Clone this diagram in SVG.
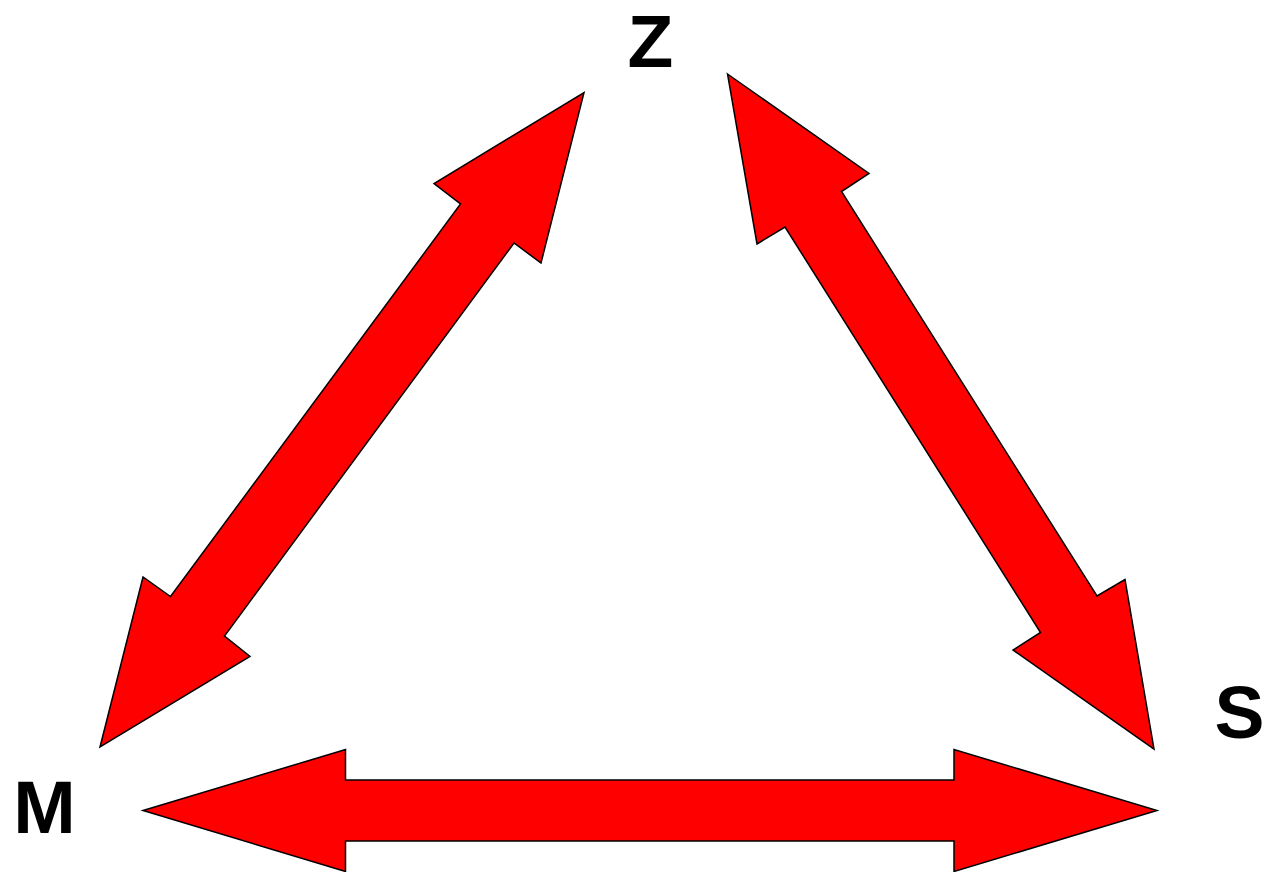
<svg xmlns="http://www.w3.org/2000/svg" width="1262" height="872" viewBox="0 0 1262 872">
<style>
.arrow{fill:#ff0000;stroke:#000;stroke-width:1.5;stroke-linejoin:miter}
.lbl{font-family:"Liberation Sans",Arial,sans-serif;font-weight:bold;font-size:75px;fill:#000;text-anchor:middle}
</style>
<rect width="1262" height="872" fill="#fff"/>
<g id="connectors">
<polygon id="arrow-MZ" class="arrow" points="584,92.5 541,263 514,243 224.5,636 250,656.5 100,747 143,577 170.5,596.5 460.5,204 434,183.5"/>
<polygon id="arrow-ZS" class="arrow" points="727.5,74 869,173.5 841.5,191.5 1097,596 1125,579.5 1154,749 1013,650 1040.5,632.5 785,227 757,244"/>
<polygon id="arrow-MS" class="arrow" points="143,810.5 345.5,749.5 345.5,780 954,780 954,749.5 1157,810.5 954,871.5 954,841 345.5,841 345.5,871.5"/>
</g>
<g id="node-Z"><text class="lbl" x="650.5" y="67">Z</text></g>
<g id="node-M"><text class="lbl" x="44.5" y="833">M</text></g>
<g id="node-S"><text class="lbl" x="1239.5" y="738">S</text></g>
</svg>
